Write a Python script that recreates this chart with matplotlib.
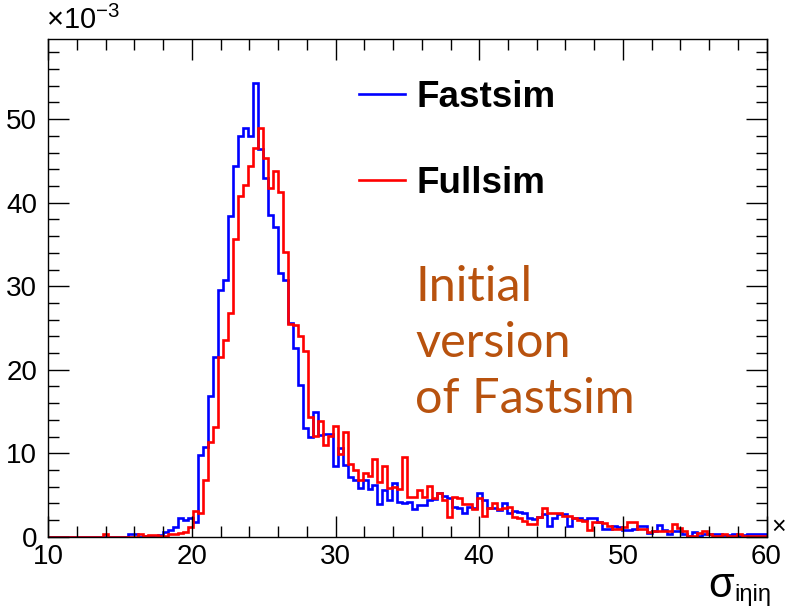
import numpy as np
import matplotlib
matplotlib.use("Agg")
import matplotlib.pyplot as plt
from matplotlib.ticker import MultipleLocator

# histogram binning: 144 bins between 10 and 60 (units of 10^-3)
x_min, x_max, n_bins = 10, 60, 144

# bin contents, in units of 10^-3
fastsim = [
    0, 0, 0, 0, 0, 0, 0, 0, 0, 0, 0, 0, 0, 0, 0, 0,
    0.3, 0.3, 0, 0.1, 0.1, 0, 0.2, 0.6, 0.8, 1.2, 2.2, 2.0, 2.2, 1.8,
    9.8, 10.8, 16.9, 21.5, 29.5, 30.7, 38.4, 44.4, 48.0, 48.9,
    48.0, 54.3, 46.4, 43.0, 38.5, 37.1, 31.6, 30.8, 25.6, 22.6,
    18.2, 13.0, 12.0, 15.0, 12.2, 12.3, 12.3, 8.5, 10.6, 8.6,
    7.2, 6.8, 5.9, 6.8, 5.7, 6.2, 3.9, 5.6, 4.4, 6.5,
    4.2, 4.0, 4.2, 3.3, 3.8, 3.8, 4.4, 4.5, 5.2, 4.9,
    4.6, 3.6, 3.4, 2.9, 3.6, 3.4, 5.3, 4.4, 3.4, 3.4,
    3.2, 4.0, 2.8, 3.1, 3.0, 2.9, 2.2, 2.1, 2.4, 2.7,
    1.3, 2.2, 2.7, 2.7, 1.3, 2.3, 2.3, 2.0, 2.3, 2.3,
    1.8, 1.0, 1.0, 1.3, 1.2, 0.8, 0.8, 1.0, 1.3, 1.3,
    0.5, 0.7, 1.4, 0.8, 0.4, 0.7, 0.7, 0.4, 0.1, 0.6,
    0.1, 0.3, 0.3, 0.3, 0.3, 0.2, 0.2, 0.4, 0.1, 0.2,
    0.4, 0.4, 0.4, 0.3,
]
fullsim = [
    0, 0, 0, 0, 0, 0, 0, 0, 0, 0, 0, 0.3, 0, 0, 0, 0,
    0, 0, 0.3, 0.1, 0.2, 0.2, 0.1, 0.1, 0.3, 0.3, 0.5, 0.6, 1.2, 3.1,
    2.8, 6.8, 11.4, 13.2, 21.5, 23.6, 26.8, 35.6, 40.8, 42.1,
    44.4, 46.6, 48.9, 45.4, 41.8, 43.8, 41.3, 34.1, 25.5, 25.3,
    24.0, 22.3, 14.3, 12.1, 13.9, 11.0, 12.1, 13.3, 9.9, 12.5,
    8.7, 8.0, 6.8, 7.7, 7.3, 9.3, 6.6, 8.5, 5.8, 6.0,
    5.7, 9.5, 4.8, 4.8, 5.6, 4.8, 6.1, 4.7, 5.3, 4.4,
    2.4, 4.8, 4.6, 3.9, 3.9, 3.3, 4.6, 2.5, 3.4, 4.0,
    3.3, 3.4, 3.6, 2.4, 2.2, 1.9, 1.5, 1.5, 2.4, 3.5,
    2.9, 2.8, 2.8, 2.5, 2.5, 2.2, 2.0, 1.9, 0.8, 1.8,
    1.8, 1.6, 1.3, 1.0, 1.0, 1.2, 1.8, 1.8, 1.0, 1.0,
    0.6, 0.7, 0.7, 0.7, 0.7, 1.5, 1.1, 0.7, 0.1, 0.1,
    0.5, 0.7, 0.4, 0.1, 0.1, 0.4, 0.1, 0.1, 0.4, 0.1,
    0.1, 0.1, 0.1, 0.1,
]
series_labels = ["Fastsim", "Fullsim"]
note_lines = ["Initial", "version", "of Fastsim"]

edges = np.linspace(x_min, x_max, n_bins + 1)

plt.rcParams["font.family"] = ["Liberation Sans", "DejaVu Sans"]
plt.rcParams["mathtext.fontset"] = "custom"
plt.rcParams["mathtext.rm"] = "Liberation Sans"
plt.rcParams["mathtext.it"] = "Liberation Sans:italic"

fig = plt.figure(figsize=(7.85, 6.08), dpi=100)
ax = fig.add_axes([0.0615, 0.117, 0.915, 0.819])

ax.stairs(fastsim, edges, color="#0000ff", lw=1.9, label=series_labels[0])
ax.stairs(fullsim, edges, color="#ff0000", lw=1.9, label=series_labels[1])

ax.set_xlim(x_min, x_max)
ax.set_ylim(0, 59.6)

ax.xaxis.set_major_locator(MultipleLocator(10))
ax.xaxis.set_minor_locator(MultipleLocator(2))
ax.yaxis.set_major_locator(MultipleLocator(10))
ax.yaxis.set_minor_locator(MultipleLocator(2))
ax.tick_params(which="both", direction="in", top=True, right=True, width=1)
ax.tick_params(which="major", length=15, labelsize=20)
ax.tick_params(which="minor", length=8)
ax.tick_params(axis="y", which="major", pad=8)
ax.tick_params(axis="x", which="major", pad=5)
for sp in ax.spines.values():
    sp.set_linewidth(1.0)

# exponent labels, ROOT style
fig.text(0.059, 0.953, r"$\times10^{-3}$", fontsize=21, ha="left", va="baseline")
fig.text(0.982, 0.133, "\u00d7", fontsize=18, ha="left", va="center")

# x-axis title: sigma with i-eta-i-eta subscript
fig.text(0.935, 0.0175, "\u03c3", fontsize=30, ha="right", va="baseline")
fig.text(0.936, 0.011, "i\u03b7i\u03b7", fontsize=17, ha="left", va="baseline")

leg = ax.legend(loc="upper left", bbox_to_anchor=(0.432, 0.918), frameon=False,
                handlelength=1.25, handletextpad=0.33, labelspacing=1.4,
                borderpad=0, borderaxespad=0,
                prop={"family": "Liberation Sans", "weight": "bold", "size": 26.5})

ax.text(0.511, 0.546, "\n".join(note_lines), transform=ax.transAxes,
        color="#b8520e", fontsize=35, family="Lato", linespacing=1.34,
        ha="left", va="top")

fig.savefig("out.png", dpi=100)
